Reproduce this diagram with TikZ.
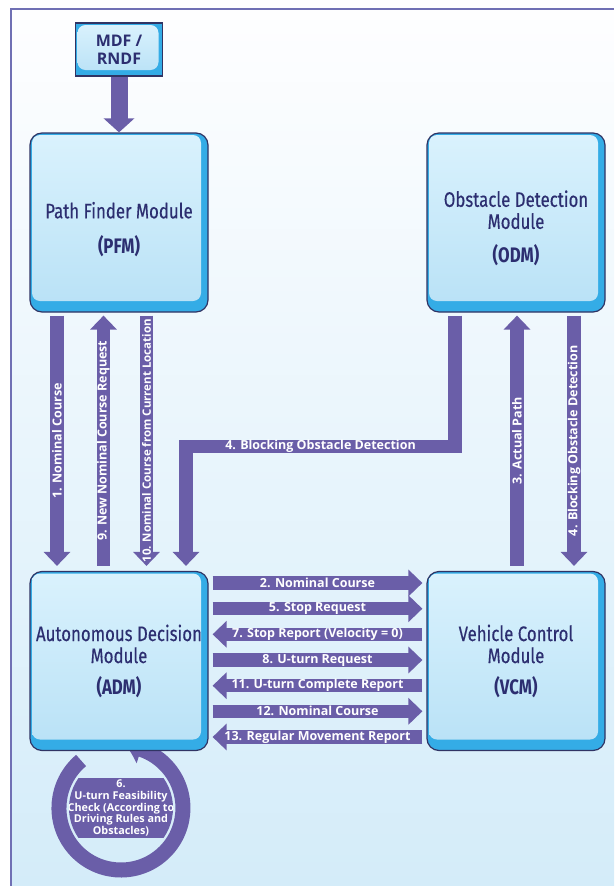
\documentclass[tikz,border=0pt]{standalone}
\usepackage{fontspec}
\usetikzlibrary{arrows.meta,bending,calc}
\newfontfamily\boxfont[FakeStretch=0.8, UprightFeatures={FakeBold=0.4}]{Fira Sans}
\newfontfamily\lblfont{Open Sans}
\definecolor{arrowc}{RGB}{106,94,168}
\definecolor{navyc}{RGB}{44,46,112}
\definecolor{boxline}{RGB}{48,52,100}
\definecolor{bevelc}{RGB}{52,172,230}
\definecolor{innertop}{RGB}{218,242,253}
\definecolor{innerbot}{RGB}{184,225,246}
\definecolor{bgtop}{RGB}{254,254,255}
\definecolor{bgbot}{RGB}{212,236,249}
\definecolor{framec}{RGB}{112,112,180}
\tikzset{
  glass/.style 2 args={fill=bevelc, path picture={
    \shade[top color=innertop, bottom color=innerbot, rounded corners=8pt]
      ([xshift=2pt,yshift=#2]path picture bounding box.south west) rectangle
      ([xshift=-#1,yshift=-2pt]path picture bounding box.north east);}},
  module/.style={draw=boxline, line width=1.2pt, rounded corners=12pt, glass={7pt}{11pt},
    minimum width=178pt, minimum height=179pt, align=center, text=navyc,
    font=\boxfont\fontsize{21}{22}\selectfont},
  srcbox/.style={draw=boxline, line width=1.2pt, glass={4pt}{6pt},
    minimum width=87pt, minimum height=53pt, align=center, text=navyc,
    font=\lblfont\bfseries\fontsize{16}{18}\selectfont},
  flow/.style={draw=arrowc, line width=13.5pt, -{Triangle[width=26pt,length=14pt]}},
  bigflow/.style={draw=arrowc, line width=17pt, -{Triangle[width=30pt,length=14pt]}},
  ringflow/.style={draw=arrowc, line width=15pt, -{Triangle[width=28pt,length=15pt,bend]}},
  lbl/.style={text=white, inner sep=0pt, font=\lblfont\bfseries\fontsize{12.5}{14}\selectfont},
  looplbl/.style={fill=arrowc, text=white, inner sep=0pt, minimum width=103pt,
    minimum height=60pt, align=center, font=\lblfont\bfseries\fontsize{10.8}{11.7}\selectfont}
}
\begin{document}
\begin{tikzpicture}[x=1pt, y=-1pt]
\useasboundingbox (0, 0) rectangle (614, 886);
\fill[white] (0, 0) rectangle (614, 886);
\shade[top color=bgtop, bottom color=bgbot] (11, 9) rectangle (614, 886);
\draw[framec, line width=2pt] (11, 886) -- (11, 9) -- (614, 9);

\coordinate (loopc) at (121, 808);
\draw[ringflow] ($(loopc)+(-39.9,-47.5)$) arc[start angle=130, end angle=445, radius=62pt];
\begin{scope}
\clip (loopc) circle[radius=52pt];
\node[looplbl] (chk) at (loopc) {6.\\U-turn Feasibility\\Check (According to\\Driving Rules and\\Obstacles)};
\end{scope}

\node[srcbox] (mdf) at (119, 49.5) {MDF /\\RNDF};
\node[module] (pfm) at (119, 222.5) {\rule{0pt}{30pt}Path Finder Module\\[13pt]\textbf{(PFM)}};
\node[module] (odm) at (516, 222.5) {\rule{0pt}{28pt}Obstacle Detection\\Module\\[12pt]\textbf{(ODM)}};
\node[module] (adm) at (119, 661) {Autonomous Decision\\Module\\[9pt]\textbf{(ADM)}};
\node[module] (vcm) at (516, 661) {Vehicle Control\\Module\\[9pt]\textbf{(VCM)}};

\draw[bigflow] (mdf) -- (pfm);

\draw[flow] ($(pfm.south)+(-62,3)$) -- node[lbl, rotate=90]{1. Nominal Course} ($(adm.north)+(-62,-5)$);
\draw[flow] ($(adm.north)+(-15.5,-5)$) -- node[lbl, rotate=90]{9. New Nominal Course Request} ($(pfm.south)+(-15.5,3)$);
\draw[flow] ($(pfm.south)+(27.5,3)$) -- node[lbl, rotate=90, font=\lblfont\bfseries\fontsize{11.5}{13}\selectfont]{10. Nominal Course from Current Location} ($(adm.north)+(27.5,-5)$);
\draw[flow] ($(odm.south)+(-61,3)$) -- ++(0, 131) -| node[lbl, pos=0.25]{4. Blocking Obstacle Detection} ($(adm.north)+(67,-5)$);
\draw[flow] ($(vcm.north)+(1,-5)$) -- node[lbl, rotate=90]{3. Actual Path} ($(odm.south)+(1,3)$);
\draw[flow] ($(odm.south)+(58,3)$) -- node[lbl, rotate=90]{4. Blocking Obstacle Detection} ($(vcm.north)+(58,-5)$);

\draw[flow] ($(adm.east)+(4,-78)$) -- node[lbl]{2. Nominal Course} ($(vcm.west)+(-4,-78)$);
\draw[flow] ($(adm.east)+(4,-52.3)$) -- node[lbl]{5. Stop Request} ($(vcm.west)+(-4,-52.3)$);
\draw[flow] ($(vcm.west)+(-4,-26.7)$) -- node[lbl]{7. Stop Report (Velocity = 0)} ($(adm.east)+(4,-26.7)$);
\draw[flow] ($(adm.east)+(4,-1)$) -- node[lbl]{8. U-turn Request} ($(vcm.west)+(-4,-1)$);
\draw[flow] ($(vcm.west)+(-4,24.7)$) -- node[lbl]{11. U-turn Complete Report} ($(adm.east)+(4,24.7)$);
\draw[flow] ($(adm.east)+(4,50.3)$) -- node[lbl]{12. Nominal Course} ($(vcm.west)+(-4,50.3)$);
\draw[flow] ($(vcm.west)+(-4,76)$) -- node[lbl]{13. Regular Movement Report} ($(adm.east)+(4,76)$);
\end{tikzpicture}
\end{document}
